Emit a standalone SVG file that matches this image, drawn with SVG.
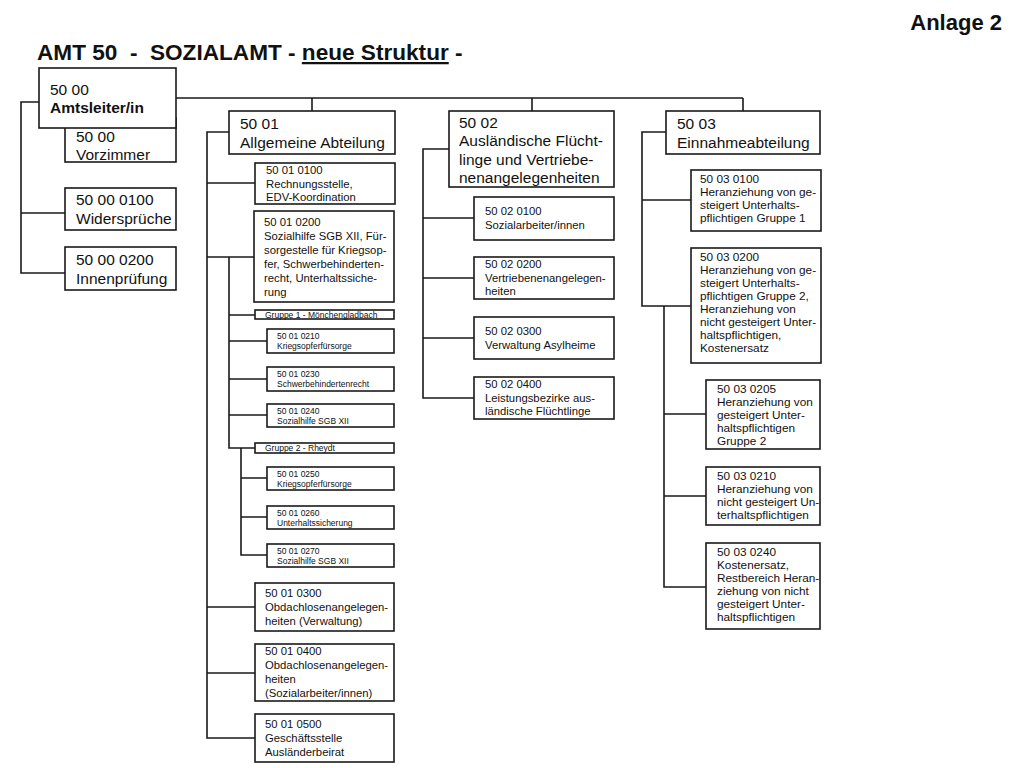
<svg xmlns="http://www.w3.org/2000/svg" width="1024" height="768" viewBox="0 0 1024 768">
<style>
text{font-family:"Liberation Sans",Arial,sans-serif;fill:#111}
.b{fill:#fff;stroke:#1a1a1a;stroke-width:1.6}
.ln{fill:none;stroke:#1a1a1a;stroke-width:1.6}
.L{font-size:15.5px}
.M{font-size:11.3px}
.M3{font-size:11.8px}
.S{font-size:8.5px}
.bold{font-weight:bold}
</style>
<rect width="1024" height="768" fill="#fff"/>
<text x="1002" y="30" text-anchor="end" class="bold" font-size="22">Anlage 2</text>
<text x="37" y="60" class="bold" font-size="22.6" xml:space="preserve">AMT 50  -  SOZIALAMT - <tspan text-decoration="underline">neue Struktur</tspan> -</text>
<g id="connectors">
<path class="ln" d="M176,98 H743 M312,98 V111 M532,98 V111 M743,98 V111"/>
<path class="ln" d="M39,102 H21 V273 H65 M21,213 H65"/>
<path class="ln" d="M229,132 H207 V738 H255 M207,183 H255 M207,257 H254 M229,257 V448 H255 M229,315 H255 M229,341 H267 M229,379 H267 M229,415 H267 M241,448 V555 H267 M241,478 H267 M241,517 H267 M207,607 H255 M207,673 H255"/>
<path class="ln" d="M449,149 H423 V398 H474 M423,218 H474 M423,278 H474 M423,338 H474"/>
<path class="ln" d="M666,132 H642 V306 H691 M642,200 H691 M664,306 V587 H706 M664,414 H706 M664,496 H706"/>
</g>
<g id="n5000vz"><rect class="b" x="65" y="118" width="111" height="44"/><text class="L" x="76" y="142">50 00</text><text class="L" x="76" y="160">Vorzimmer</text></g>
<g id="n5000"><rect class="b" x="39" y="68" width="137" height="60"/><text class="L" x="50" y="95">50 00</text><text class="L bold" x="50" y="113">Amtsleiter/in</text></g>
<g id="n50000100"><rect class="b" x="65" y="188" width="111" height="42"/><text class="L" x="76" y="205">50 00 0100</text><text class="L" x="76" y="224">Widersprüche</text></g>
<g id="n50000200"><rect class="b" x="65" y="247" width="111" height="43"/><text class="L" x="76" y="265">50 00 0200</text><text class="L" x="76" y="284">Innenprüfung</text></g>
<g id="n5001"><rect class="b" x="229" y="111" width="166" height="43"/><text class="L" x="240" y="129">50 01</text><text class="L" x="240" y="148">Allgemeine Abteilung</text></g>
<g id="n50010100"><rect class="b" x="255" y="163" width="140" height="41"/><text class="M" x="266" y="174">50 01 0100</text><text class="M" x="266" y="188">Rechnungsstelle,</text><text class="M" x="266" y="201">EDV-Koordination</text></g>
<g id="n50010200"><rect class="b" x="254" y="211" width="140" height="91"/><text class="M" x="264" y="226">50 01 0200</text><text class="M" x="264" y="240">Sozialhilfe SGB XII, Für-</text><text class="M" x="264" y="254">sorgestelle für Kriegsop-</text><text class="M" x="264" y="268">fer, Schwerbehinderten-</text><text class="M" x="264" y="282">recht, Unterhaltssiche-</text><text class="M" x="264" y="296">rung</text></g>
<g id="g1"><rect class="b" x="255" y="310" width="139" height="9"/><text class="S" x="265" y="317.5">Gruppe 1 - Mönchengladbach</text></g>
<g id="n50010210"><rect class="b" x="267" y="329" width="127" height="24"/><text class="S" x="277" y="339">50 01 0210</text><text class="S" x="277" y="349">Kriegsopferfürsorge</text></g>
<g id="n50010230"><rect class="b" x="267" y="367" width="127" height="24"/><text class="S" x="277" y="377">50 01 0230</text><text class="S" x="277" y="387">Schwerbehindertenrecht</text></g>
<g id="n50010240"><rect class="b" x="267" y="404" width="127" height="23"/><text class="S" x="277" y="414">50 01 0240</text><text class="S" x="277" y="424">Sozialhilfe SGB XII</text></g>
<g id="g2"><rect class="b" x="255" y="443" width="139" height="10"/><text class="S" x="265" y="451">Gruppe 2 - Rheydt</text></g>
<g id="n50010250"><rect class="b" x="267" y="467" width="127" height="23"/><text class="S" x="277" y="477">50 01 0250</text><text class="S" x="277" y="487">Kriegsopferfürsorge</text></g>
<g id="n50010260"><rect class="b" x="267" y="506" width="127" height="23"/><text class="S" x="277" y="516">50 01 0260</text><text class="S" x="277" y="526">Unterhaltssicherung</text></g>
<g id="n50010270"><rect class="b" x="267" y="544" width="127" height="23"/><text class="S" x="277" y="554">50 01 0270</text><text class="S" x="277" y="564">Sozialhilfe SGB XII</text></g>
<g id="n50010300"><rect class="b" x="255" y="583" width="139" height="48"/><text class="M" x="265" y="597">50 01 0300</text><text class="M" x="265" y="611">Obdachlosenangelegen-</text><text class="M" x="265" y="625">heiten (Verwaltung)</text></g>
<g id="n50010400"><rect class="b" x="255" y="644" width="139" height="57"/><text class="M" x="265" y="655">50 01 0400</text><text class="M" x="265" y="669">Obdachlosenangelegen-</text><text class="M" x="265" y="683">heiten</text><text class="M" x="265" y="697">(Sozialarbeiter/innen)</text></g>
<g id="n50010500"><rect class="b" x="255" y="714" width="139" height="48"/><text class="M" x="265" y="728">50 01 0500</text><text class="M" x="265" y="742">Geschäftsstelle</text><text class="M" x="265" y="756">Ausländerbeirat</text></g>
<g id="n5002"><rect class="b" x="449" y="111" width="165" height="76"/><text class="L" x="459" y="128">50 02</text><text class="L" x="459" y="146">Ausländische Flücht-</text><text class="L" x="459" y="165">linge und Vertriebe-</text><text class="L" x="459" y="183">nenangelegenheiten</text></g>
<g id="n50020100"><rect class="b" x="474" y="197" width="140" height="43"/><text class="M" x="485" y="215">50 02 0100</text><text class="M" x="485" y="229">Sozialarbeiter/innen</text></g>
<g id="n50020200"><rect class="b" x="474" y="257" width="140" height="42"/><text class="M" x="485" y="268">50 02 0200</text><text class="M" x="485" y="282">Vertriebenenangelegen-</text><text class="M" x="485" y="295">heiten</text></g>
<g id="n50020300"><rect class="b" x="474" y="317" width="140" height="42"/><text class="M" x="485" y="335">50 02 0300</text><text class="M" x="485" y="349">Verwaltung Asylheime</text></g>
<g id="n50020400"><rect class="b" x="474" y="377" width="140" height="42"/><text class="M" x="485" y="388">50 02 0400</text><text class="M" x="485" y="402">Leistungsbezirke aus-</text><text class="M" x="485" y="415">ländische Flüchtlinge</text></g>
<g id="n5003"><rect class="b" x="666" y="111" width="154" height="43"/><text class="L" x="677" y="129">50 03</text><text class="L" x="677" y="148">Einnahmeabteilung</text></g>
<g id="n50030100"><rect class="b" x="691" y="170" width="130" height="61"/><text class="M3" x="700" y="183">50 03 0100</text><text class="M3" x="700" y="196">Heranziehung von ge-</text><text class="M3" x="700" y="209">steigert Unterhalts-</text><text class="M3" x="700" y="222">pflichtigen Gruppe 1</text></g>
<g id="n50030200"><rect class="b" x="691" y="248" width="130" height="115"/><text class="M3" x="700" y="261">50 03 0200</text><text class="M3" x="700" y="274">Heranziehung von ge-</text><text class="M3" x="700" y="287">steigert Unterhalts-</text><text class="M3" x="700" y="300">pflichtigen Gruppe 2,</text><text class="M3" x="700" y="313">Heranziehung von</text><text class="M3" x="700" y="326">nicht gesteigert Unter-</text><text class="M3" x="700" y="339">haltspflichtigen,</text><text class="M3" x="700" y="352">Kostenersatz</text></g>
<g id="n50030205"><rect class="b" x="706" y="380" width="114" height="69"/><text class="M3" x="717" y="393">50 03 0205</text><text class="M3" x="717" y="406">Heranziehung von</text><text class="M3" x="717" y="419">gesteigert Unter-</text><text class="M3" x="717" y="432">haltspflichtigen</text><text class="M3" x="717" y="445">Gruppe 2</text></g>
<g id="n50030210"><rect class="b" x="706" y="467" width="114" height="58"/><text class="M3" x="717" y="480">50 03 0210</text><text class="M3" x="717" y="493">Heranziehung von</text><text class="M3" x="717" y="506">nicht gesteigert Un-</text><text class="M3" x="717" y="519">terhaltspflichtigen</text></g>
<g id="n50030240"><rect class="b" x="706" y="543" width="114" height="86"/><text class="M3" x="717" y="556">50 03 0240</text><text class="M3" x="717" y="569">Kostenersatz,</text><text class="M3" x="717" y="582">Restbereich Heran-</text><text class="M3" x="717" y="595">ziehung von nicht</text><text class="M3" x="717" y="608">gesteigert Unter-</text><text class="M3" x="717" y="621">haltspflichtigen</text></g>
</svg>
